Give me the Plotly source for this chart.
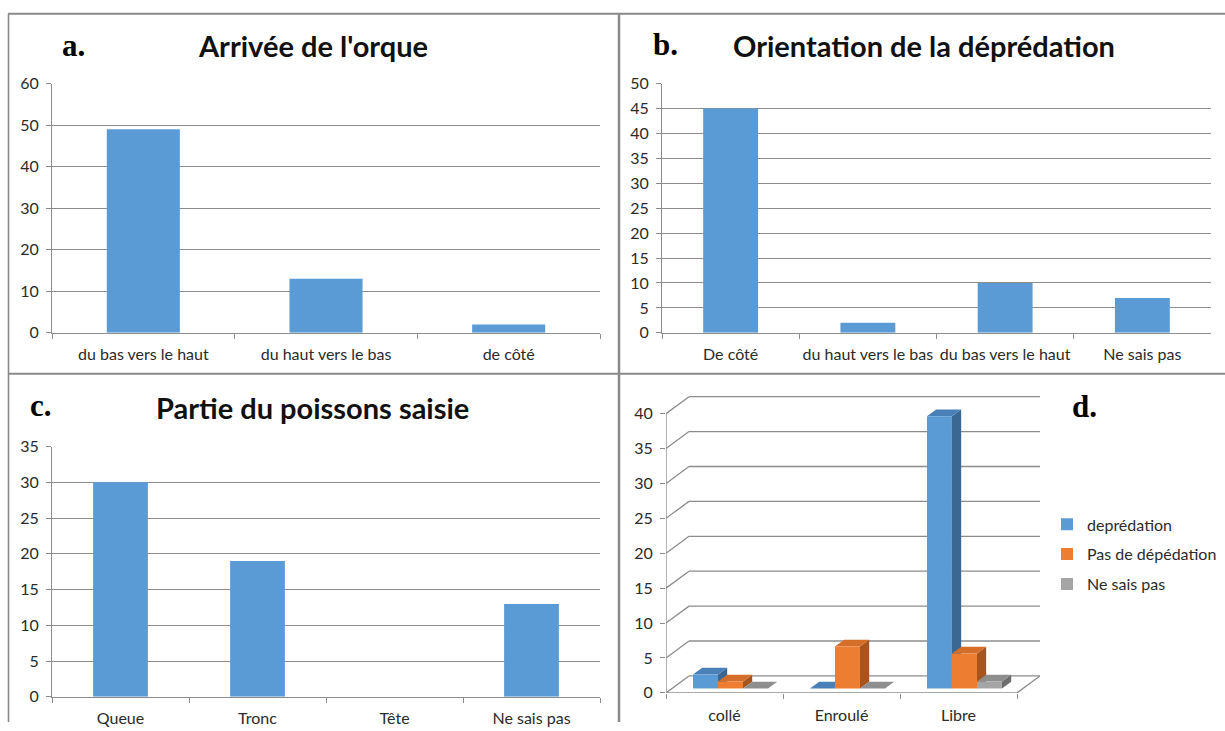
import plotly.graph_objects as go

W, H = 1225, 731

# ---- data -------------------------------------------------------------
arrivee_cats = ["du bas vers le haut", "du haut vers le bas", "de côté"]
arrivee_vals = [49, 13, 2]

orient_cats = ["De côté", "du haut vers le bas", "du bas vers le haut", "Ne sais pas"]
orient_vals = [45, 2, 10, 7]

partie_cats = ["Queue", "Tronc", "Tête", "Ne sais pas"]
partie_vals = [30, 19, 0, 13]

etat_cats = ["collé", "Enroulé", "Libre"]
series_names = ["deprédation", "Pas de dépédation", "Ne sais pas"]
depredation = [2, 0, 39]
pas_depredation = [1, 6, 5]
ne_sais_pas = [0, 0, 1]

# ---- styling ----------------------------------------------------------
BLUE = "#5B9BD5"
FRONT = ["#5B9BD5", "#ED7D31", "#A5A5A5"]
TOP = ["#4A80B8", "#D46E29", "#8E8E8E"]
SIDE = ["#3B6892", "#A8551D", "#6C6C6C"]
GRID = "#8C8C8C"
BORDER = "#8A8A8A"
TXT = "#2B2B2B"
SANS = "Lato"
SERIF = "Liberation Serif"
TICKFONT = dict(family=SANS, size=16, color=TXT)

# vertical placement calibration for the rendered page
Y_SCALE, Y_SHIFT = 0.9766, 8.3


def px_x(p):
    return p / W


def px_y(p):
    return 1 - ((p - Y_SHIFT) / Y_SCALE) / H


fig = go.Figure()

# ---- flat column panels (a, b, c) -----------------------------------------
flat_panels = [
    ("x", "y", arrivee_cats, arrivee_vals),
    ("x2", "y2", orient_cats, orient_vals),
    ("x3", "y3", partie_cats, partie_vals),
]
for xa, ya, cats, vals in flat_panels:
    fig.add_trace(go.Bar(x=cats, y=vals, width=0.4, marker=dict(color=BLUE, line=dict(width=0)),
                         xaxis=xa, yaxis=ya, showlegend=False, hoverinfo="x+y"))


def cat_xaxis(domain, anchor):
    return dict(domain=domain, anchor=anchor, type="category", tickson="boundaries",
                ticks="outside", ticklen=5, tickcolor=GRID, tickwidth=1, tickangle=0,
                showline=True, linecolor=GRID, linewidth=1, showgrid=False,
                zeroline=False, tickfont=TICKFONT, ticklabelstandoff=7, fixedrange=True)


def val_yaxis(domain, anchor, top, step):
    return dict(domain=domain, anchor=anchor, range=[0, top], dtick=step,
                showgrid=True, gridcolor=GRID, gridwidth=1, ticks="outside", ticklen=5,
                tickcolor=GRID, showline=True, linecolor=GRID, linewidth=1,
                zeroline=False, tickfont=TICKFONT, ticklabelstandoff=4, fixedrange=True)


# ---- 3D-style clustered columns (d) -----------------------------------------
D_X0, D_Y0 = 666, 693          # front-left corner of the floor, pixels
D_XU, D_YU = 117, 7            # pixels per category / per unit
DX = 23 / D_XU                 # depth vector of the box, in data units
DY = 17 / D_YU
F0 = 0.26                      # depth position of the column front faces
BD = 0.40                      # column depth as a fraction of the box depth
BW = 25 / D_XU                 # column width
D_TOP = 42.6
D_XMAX = 3 + DX

series_vals = [depredation, pas_depredation, ne_sais_pas]
shapes = []

# side wall diagonals and back wall gridlines
for v in range(0, 45, 5):
    shapes.append(dict(type="line", xref="x4", yref="y4", x0=0, y0=v, x1=DX, y1=v + DY,
                       line=dict(color=GRID, width=1.3), layer="below"))
    shapes.append(dict(type="line", xref="x4", yref="y4", x0=DX, y0=v + DY, x1=3 + DX, y1=v + DY,
                       line=dict(color=GRID, width=1.3), layer="below"))
# front axis, floor front edge and floor right edge
shapes.append(dict(type="line", xref="x4", yref="y4", x0=0, y0=0, x1=0, y1=40,
                   line=dict(color=GRID, width=1.3), layer="below"))
shapes.append(dict(type="line", xref="x4", yref="y4", x0=0, y0=0, x1=3, y1=0,
                   line=dict(color=GRID, width=1.3), layer="below"))
shapes.append(dict(type="line", xref="x4", yref="y4", x0=3, y0=0, x1=3 + DX, y1=DY,
                   line=dict(color=GRID, width=1.3), layer="below"))

base = F0 * DY
bx, by = BD * DX, BD * DY
for i, vals in enumerate(series_vals):
    for j, v in enumerate(vals):
        xl = j + 0.5 + F0 * DX + (i - 1.5) * BW
        xr = xl + BW
        top = base + v
        side = f"M {xr},{base} L {xr + bx},{base + by} L {xr + bx},{top + by} L {xr},{top} Z"
        roof = f"M {xl},{top} L {xr},{top} L {xr + bx},{top + by} L {xl + bx},{top + by} Z"
        shapes.append(dict(type="path", xref="x4", yref="y4", path=side, fillcolor=SIDE[i],
                           line=dict(width=0), layer="below"))
        shapes.append(dict(type="path", xref="x4", yref="y4", path=roof, fillcolor=TOP[i],
                           line=dict(width=0), layer="below"))

for i, (name, vals) in enumerate(zip(series_names, series_vals)):
    fig.add_trace(go.Bar(
        x=[j + 0.5 + F0 * DX for j in range(len(etat_cats))], y=vals,
        base=[base] * len(vals), width=BW, offset=(i - 1.5) * BW,
        marker=dict(color=FRONT[i], line=dict(width=0)), name=name,
        legendgroup=name, xaxis="x4", yaxis="y4", hoverinfo="y+name"))

# ---- panel frames -------------------------------------------------------
frame = [
    (px_x(8.5), px_y(12), px_x(8.5), 0, 1.6),
    (px_x(8), px_y(12), 1, px_y(12), 2),
    (px_x(619), px_y(12), px_x(619), 0, 2.5),
    (px_x(8), px_y(373), 1, px_y(373), 2),
]
for x0, y0, x1, y1, wdt in frame:
    shapes.append(dict(type="line", xref="paper", yref="paper", x0=x0, y0=y0, x1=x1, y1=y1,
                       line=dict(color=BORDER, width=wdt), layer="above"))

# ---- titles and panel letters -------------------------------------------------
title_font = dict(family=SANS, size=29, color="#111111")
letter_font = dict(family=SERIF, size=31, color="#000000")
annotations = [
    dict(text="<b>Arrivée de l'orque</b>", x=px_x(313), y=px_y(44), font=title_font,
         xanchor="center"),
    dict(text="<b>Orientation de la déprédation</b>", x=px_x(924), y=px_y(44), font=title_font,
         xanchor="center"),
    dict(text="<b>Partie du poissons saisie</b>", x=px_x(312), y=px_y(407), font=title_font,
         xanchor="center"),
    dict(text="<b>a.</b>", x=px_x(60), y=px_y(44), font=letter_font, xanchor="left"),
    dict(text="<b>b.</b>", x=px_x(651), y=px_y(43), font=letter_font, xanchor="left"),
    dict(text="<b>c.</b>", x=px_x(28), y=px_y(405), font=letter_font, xanchor="left"),
    dict(text="<b>d.</b>", x=px_x(1070), y=px_y(406), font=letter_font, xanchor="left"),
]
for a in annotations:
    a.update(xref="paper", yref="paper", yanchor="middle", showarrow=False)

fig.update_layout(
    width=W, height=H, margin=dict(l=0, r=0, t=0, b=0),
    paper_bgcolor="white", plot_bgcolor="white",
    barmode="overlay", bargap=0.6,
    xaxis=cat_xaxis([px_x(52), px_x(600)], "y"),
    yaxis=val_yaxis([px_y(332), px_y(82)], "x", 60, 10),
    xaxis2=cat_xaxis([px_x(662), px_x(1211)], "y2"),
    yaxis2=val_yaxis([px_y(332), px_y(82)], "x2", 50, 5),
    xaxis3=cat_xaxis([px_x(52), px_x(600)], "y3"),
    yaxis3=val_yaxis([px_y(697), px_y(446)], "x3", 35, 5),
    xaxis4=dict(domain=[px_x(D_X0), px_x(D_X0 + D_XMAX * D_XU)], anchor="y4",
                range=[0, D_XMAX], tickmode="array", tickvals=[0.5, 1.5, 2.5],
                ticktext=etat_cats, ticks="", tickangle=0, showgrid=False, showline=False,
                zeroline=False,
                minor=dict(tickmode="array", tickvals=[0, 1, 2, 3], ticks="outside", ticklen=5,
                           tickcolor=GRID, showgrid=False),
                tickfont=TICKFONT, ticklabelstandoff=11, fixedrange=True),
    yaxis4=dict(domain=[px_y(D_Y0), px_y(D_Y0 - D_TOP * D_YU)], anchor="x4",
                range=[0, D_TOP], dtick=5, ticks="outside", ticklen=5, tickcolor=GRID,
                showgrid=False, showline=False, zeroline=False, tickfont=TICKFONT,
                ticklabelstandoff=4, fixedrange=True),
    legend=dict(x=px_x(1047), y=px_y(507), xanchor="left", yanchor="top",
                font=dict(family=SANS, size=16, color=TXT), tracegroupgap=6,
                bgcolor="rgba(0,0,0,0)", borderwidth=0, itemclick=False, itemdoubleclick=False),
    shapes=shapes,
    annotations=annotations,
)

fig.write_html("out.html")
